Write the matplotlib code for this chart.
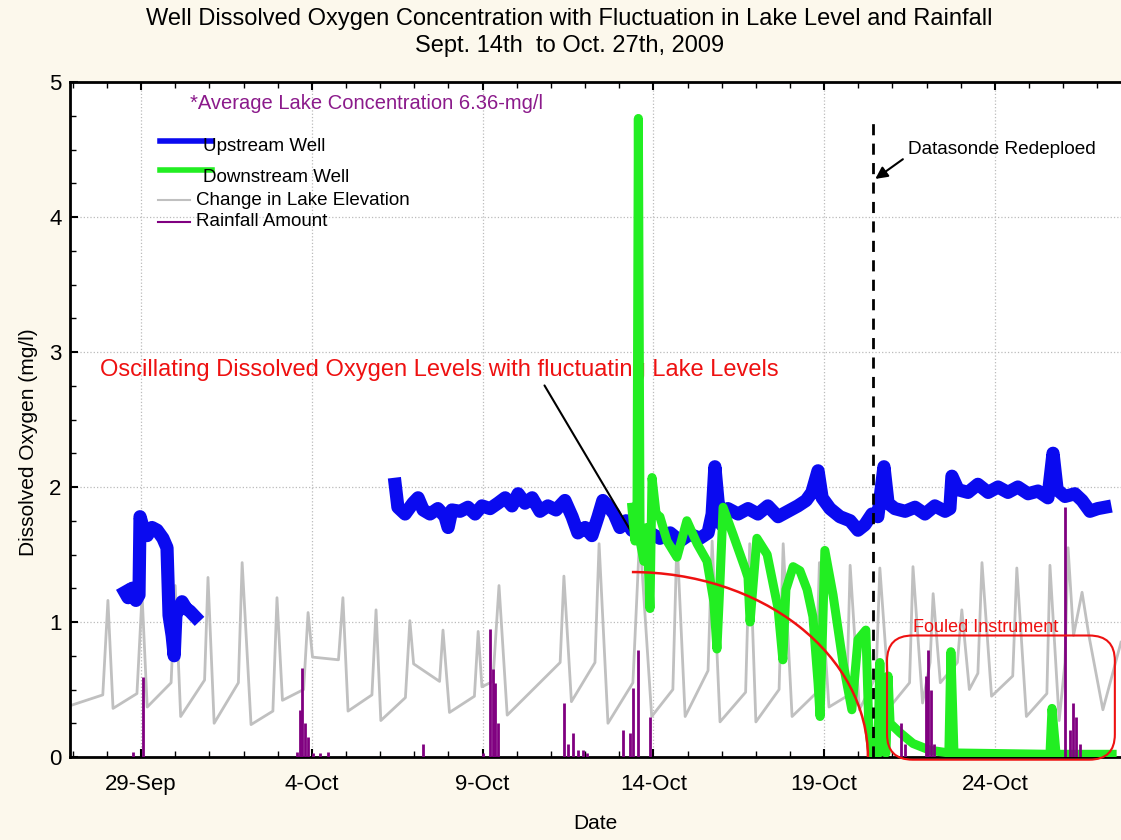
import datetime as dt
import matplotlib
matplotlib.use("Agg")
import matplotlib.pyplot as plt
import matplotlib.dates as mdates
from matplotlib.lines import Line2D
from matplotlib.patches import Arc, FancyBboxPatch

# times are days after 29-Sep-2009 00:00
lake_t = [-2.08, -1.6, -1.12, -0.97, -0.82, -0.12, 0.03, 0.18, 0.88, 1.00, 1.16, 1.86, 1.96, 2.14,
          2.85, 2.96, 3.22, 3.86, 3.98, 4.14, 4.76, 4.89, 5.02, 5.78, 5.91, 6.06, 6.76, 6.88, 7.02,
          7.74, 7.87, 7.98, 8.74, 8.84, 9.03, 9.76, 9.87, 9.98, 10.30, 10.48, 10.72, 12.27, 12.38,
          12.60, 13.29, 13.41, 13.67, 14.40, 14.60, 14.95, 15.57, 15.69, 15.93, 16.60, 16.72, 16.95,
          17.70, 17.82, 18.00, 18.68, 18.80, 19.06, 19.75, 19.86, 20.14, 20.66, 20.76, 21.03, 21.52,
          21.63, 21.92, 22.50, 22.60, 22.88, 23.10, 23.19, 23.40, 23.90, 24.03, 24.25, 24.50, 24.62,
          24.90, 25.52, 25.64, 25.92, 26.52, 26.61, 26.88, 27.05, 27.14, 27.30, 27.55, 27.75, 28.16, 28.69]
lake_v = [0.38, 0.42, 0.46, 1.16, 0.36, 0.47, 1.20, 0.37, 0.55, 1.27, 0.30, 0.57, 1.33, 0.25,
          0.55, 1.44, 0.24, 0.34, 1.18, 0.42, 0.50, 1.07, 0.74, 0.72, 1.18, 0.34, 0.46, 1.09, 0.27,
          0.44, 1.01, 0.69, 0.56, 0.94, 0.33, 0.45, 0.93, 0.52, 0.56, 1.27, 0.31, 0.70, 1.34,
          0.41, 0.70, 1.58, 0.25, 0.55, 1.65, 0.30, 0.50, 1.62, 0.30, 0.64, 1.60, 0.26,
          0.48, 1.58, 0.26, 0.50, 1.58, 0.30, 0.47, 1.44, 0.37, 0.45, 1.42, 0.35, 0.60,
          1.40, 0.37, 0.55, 1.41, 0.40, 0.70, 1.21, 0.55, 0.70, 1.09, 0.50, 0.62, 1.44,
          0.45, 0.60, 1.40, 0.30, 0.47, 1.42, 0.27, 0.70, 1.55, 0.90, 1.22, 0.90, 0.35, 0.85]

up1_t = [-0.47, -0.38, -0.26, -0.15, -0.06, -0.03, 0.06, 0.18, 0.32, 0.47, 0.64, 0.76, 0.82, 0.91,
         0.97, 1.02, 1.11, 1.20, 1.32, 1.43, 1.58]
up1_v = [1.22, 1.18, 1.25, 1.16, 1.20, 1.78, 1.70, 1.64, 1.70, 1.68, 1.62, 1.55, 1.05, 0.90,
         0.75, 1.05, 1.10, 1.15, 1.10, 1.08, 1.04]

up2_t = [7.44, 7.52, 7.73, 7.96, 8.11, 8.26, 8.46, 8.69, 8.90, 8.99, 9.10, 9.34, 9.57, 9.78, 9.98,
         10.22, 10.45, 10.66, 10.86, 11.04, 11.24, 11.45, 11.68, 11.91, 12.15, 12.41, 12.62, 12.79,
         13.00, 13.20, 13.38, 13.52, 13.67, 13.85, 14.02, 14.20, 14.37, 14.61, 14.90, 15.19, 15.49,
         15.78, 16.07, 16.36, 16.60, 16.72, 16.80, 16.89, 17.00, 17.18, 17.48, 17.77, 18.06, 18.35,
         18.65, 18.94, 19.23, 19.47, 19.64, 19.82, 19.94, 20.17, 20.46, 20.76, 20.99, 21.19, 21.40,
         21.57, 21.75, 21.87, 22.07, 22.37, 22.66, 22.95, 23.24, 23.54, 23.68, 23.74, 23.92, 24.21,
         24.50, 24.80, 25.09, 25.38, 25.67, 25.97, 26.26, 26.55, 26.70, 26.82, 27.05, 27.34, 27.55,
         27.78, 28.01, 28.22]
up2_v = [2.02, 1.85, 1.80, 1.88, 1.92, 1.83, 1.80, 1.84, 1.78, 1.70, 1.83, 1.82, 1.85, 1.80, 1.86,
         1.84, 1.88, 1.92, 1.86, 1.95, 1.88, 1.92, 1.82, 1.86, 1.83, 1.90, 1.78, 1.66,
         1.70, 1.64, 1.78, 1.90, 1.86, 1.80, 1.70, 1.75, 1.68, 1.65, 1.66, 1.62, 1.66,
         1.60, 1.65, 1.62, 1.66, 1.80, 2.15, 1.90, 1.72, 1.84, 1.80, 1.84, 1.80, 1.86,
         1.78, 1.82, 1.86, 1.90, 1.96, 2.12, 1.92, 1.84, 1.78, 1.75, 1.68, 1.72, 1.80,
         1.78, 2.15, 1.88, 1.84, 1.82, 1.85, 1.80, 1.86, 1.82, 1.84, 2.08, 1.98, 1.96,
         2.02, 1.96, 2.00, 1.96, 2.00, 1.95, 1.97, 1.92, 2.25, 1.98, 1.93, 1.95, 1.90,
         1.82, 1.84, 1.85]

down_t = [14.37, 14.46, 14.52, 14.56, 14.61, 14.72, 14.81, 14.90, 14.96, 15.08, 15.19, 15.40, 15.69,
          15.98, 16.28, 16.57, 16.77, 16.86, 16.95, 17.04, 17.33, 17.68, 17.77, 17.83, 18.03, 18.33,
          18.65, 18.79, 18.88, 19.09, 19.29, 19.50, 19.67, 19.82, 19.88, 20.02, 20.26, 20.55, 20.81,
          20.99, 21.22, 21.31, 21.40, 21.57, 21.63, 21.69, 21.81, 21.87, 21.93, 22.22, 22.60, 23.10,
          23.65, 23.71, 23.80, 26.61, 26.67, 26.79, 28.43]
down_v = [1.85, 1.60, 1.78, 4.73, 1.60, 1.45, 1.70, 1.10, 2.07, 1.80, 1.78, 1.60, 1.48,
          1.75, 1.58, 1.45, 1.15, 0.80, 1.30, 1.85, 1.65, 1.40, 1.33, 1.00, 1.62, 1.50,
          1.10, 0.72, 1.24, 1.41, 1.38, 1.24, 1.04, 0.55, 0.30, 1.53, 1.20, 0.70, 0.35,
          0.87, 0.94, 0.20, 0.02, 0.02, 0.70, 0.05, 0.03, 0.60, 0.25, 0.18, 0.10, 0.05,
          0.03, 0.78, 0.03, 0.02, 0.36, 0.02, 0.02]

rain_t = [-0.23, 0.06, 4.57, 4.65, 4.71, 4.80, 4.89, 5.04, 5.24, 5.47, 8.26, 10.01, 10.22, 10.30,
          10.36, 10.45, 12.38, 12.50, 12.65, 12.79, 12.94, 13.06, 14.11, 14.31, 14.40, 14.55, 14.90,
          22.25, 22.37, 22.98, 23.04, 23.13, 23.21, 27.05, 27.20, 27.29, 27.37, 27.49]
rain_v = [0.04, 0.59, 0.04, 0.35, 0.66, 0.25, 0.15, 0.03, 0.03, 0.04, 0.10, 0.03, 0.95, 0.65,
          0.55, 0.25, 0.40, 0.10, 0.18, 0.05, 0.05, 0.03, 0.20, 0.18, 0.51, 0.79, 0.30,
          0.25, 0.10, 0.60, 0.79, 0.50, 0.10, 1.85, 0.20, 0.40, 0.30, 0.10]

redeploy_t = 21.43
base = mdates.date2num(dt.datetime(2009, 9, 29))


def d(ts):
    return [base + t for t in ts]


plt.rcParams['font.family'] = ['Liberation Sans', 'DejaVu Sans']

fig = plt.figure(figsize=(11.21, 8.4), dpi=100, facecolor='#fcf8ec')
ax = fig.add_axes([70 / 1121, 83 / 840, 1051 / 1121, 675 / 840])
ax.set_facecolor('white')

ax.plot(d(lake_t), lake_v, color='#c0c0c0', lw=2, zorder=2)
ax.plot(d(up1_t), up1_v, color='#0a0af0', lw=9.5, solid_joinstyle='round', zorder=3)
ax.plot(d(up2_t), up2_v, color='#0a0af0', lw=9.5, solid_joinstyle='round', zorder=3)
ax.plot(d(down_t), down_v, color='#22ee22', lw=6.5, solid_joinstyle='round', zorder=4)
ax.vlines(d(rain_t), 0, rain_v, color='#800080', lw=2, zorder=5)

ax.set_xlim(base - 2.08, base + 28.69)
ax.set_ylim(0, 5)
ax.xaxis.set_major_locator(mdates.DayLocator(bymonthday=[4, 9, 14, 19, 24, 29]))
ax.xaxis.set_major_formatter(mdates.DateFormatter('%-d-%b'))
ax.xaxis.set_minor_locator(mdates.DayLocator())
ax.yaxis.set_minor_locator(plt.MultipleLocator(0.25))
ax.tick_params(which='both', direction='in', top=True, right=False)
ax.tick_params(axis='x', labelsize=16, pad=12)
ax.tick_params(axis='y', labelsize=16, pad=6)
ax.tick_params(which='major', length=6, width=1.5)
ax.tick_params(which='minor', length=4, width=1)
ax.grid(True, which='major', ls=':', color='#bbbbbb', lw=0.9)
ax.spines['right'].set_visible(False)
for s in ['left', 'bottom', 'top']:
    ax.spines[s].set_linewidth(2)

ax.set_xlabel('Date', fontsize=15, labelpad=14)
ax.set_ylabel('Dissolved Oxygen (mg/l)', fontsize=15)
ax.yaxis.set_label_coords(-0.03, 0.467)
fig.suptitle('Well Dissolved Oxygen Concentration with Fluctuation in Lake Level and Rainfall\n'
             'Sept. 14th  to Oct. 27th, 2009', x=0.508, y=0.99, fontsize=17, linespacing=1.25)

# legend drawn by hand
tr = ax.transAxes
ax.add_line(Line2D([0.0856, 0.135], [0.9126, 0.9126], transform=tr, color='#0a0af0', lw=4))
ax.add_line(Line2D([0.0856, 0.135], [0.8696, 0.8696], transform=tr, color='#22ee22', lw=4))
ax.add_line(Line2D([0.084, 0.114], [0.825, 0.825], transform=tr, color='#c0c0c0', lw=1.5))
ax.add_line(Line2D([0.084, 0.114], [0.7926, 0.7926], transform=tr, color='#800080', lw=1.5))
ax.text(0.1265, 0.905, 'Upstream Well', transform=tr, fontsize=13.5, va='center')
ax.text(0.1265, 0.858, 'Downstream Well', transform=tr, fontsize=13.5, va='center')
ax.text(0.12, 0.825, 'Change in Lake Elevation', transform=tr, fontsize=13.5, va='center')
ax.text(0.12, 0.7926, 'Rainfall Amount', transform=tr, fontsize=13.5, va='center')
ax.text(base + 1.43, 4.84, '*Average Lake Concentration 6.36-mg/l', color='#8b1a8b',
        fontsize=14.5, va='center')

# annotations
ax.text(base - 1.2, 2.87, 'Oscillating Dissolved Oxygen Levels with fluctuating Lake Levels',
        color='#ee1111', fontsize=17, va='center')
ax.annotate('', xy=(base + 15.05, 1.37), xytext=(base + 11.77, 2.77),
            arrowprops=dict(arrowstyle='-|>', color='black', lw=1.5, mutation_scale=22))
ax.add_patch(Arc((base + 14.37, 0), 2 * 6.91, 2 * 1.37, theta1=0, theta2=90,
                 color='#ee1111', lw=1.8, zorder=6, clip_on=False))

ax.plot([base + redeploy_t] * 2, [0, 4.72], color='black', ls=(0, (4, 3)), lw=2, zorder=6)
ax.annotate('', xy=(base + redeploy_t, 4.27), xytext=(base + 22.37, 4.44),
            arrowprops=dict(arrowstyle='-|>', color='black', lw=1.5, mutation_scale=18))
ax.text(base + 22.45, 4.5, 'Datasonde Redeploed', fontsize=13.7, va='center')

box = FancyBboxPatch((base + 21.84, -0.02), 6.67, 0.92,
                     boxstyle='round,pad=0,rounding_size=0.75', mutation_aspect=0.25,
                     fill=False, ec='#ee1111', lw=1.5, zorder=7, clip_on=False)
ax.add_patch(box)
ax.text(base + 24.74, 0.96, 'Fouled Instrument', color='#ee1111', fontsize=13,
        ha='center', va='center')

fig.savefig('out.png', dpi=100, facecolor=fig.get_facecolor())
